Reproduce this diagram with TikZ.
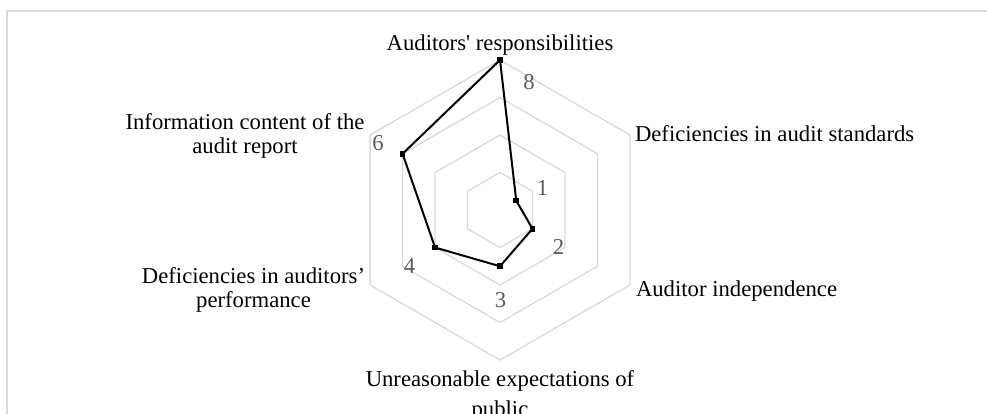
\documentclass[tikz,border=0pt]{standalone}
\usepackage{fontspec}
\setmainfont{Liberation Serif}[Ligatures={TeX,NoCommon}]
\begin{document}
\begin{tikzpicture}[x=1pt,y=-1pt,
  every node/.style={inner sep=0pt, outer sep=0pt,
    font=\fontsize{22.7pt}{24pt}\selectfont},
  grid/.style={draw=gridgray, line width=1.3pt, line join=miter},
  frameline/.style={draw=gridgray, line width=1.6pt},
  series/.style={draw=black, line width=2pt, line join=round},
  marker/.style={rectangle, fill=black, minimum size=5.6pt},
  catlabel/.style={text=black, align=center},
  vallabel/.style={text=valgray, anchor=base}]
\definecolor{gridgray}{HTML}{D9D9D9}
\definecolor{valgray}{HTML}{595959}
\useasboundingbox (0,0) rectangle (987,413);

% chart frame (only the top and left edges fall inside the page)
\draw[frameline] (7,430) -- (7,10.8) -- (1000,10.8);

% hexagonal grid rings at 2, 4, 6, 8 (one unit = 18.75)
\begin{scope}[shift={(500,210)}]
  \foreach \r in {37.5,75,112.5,150}
    \draw[grid] (-90:\r) -- (-30:\r) -- (30:\r) -- (90:\r) -- (150:\r) -- (210:\r) -- cycle;

  % data points
  \node[marker] (m1) at (-90:150)   {};
  \node[marker] (m2) at (-30:18.75) {};
  \node[marker] (m3) at (30:37.5)   {};
  \node[marker] (m4) at (90:56.25)  {};
  \node[marker] (m5) at (150:75)    {};
  \node[marker] (m6) at (210:112.5) {};
\end{scope}

\draw[series] (m1.center) -- (m2.center) -- (m3.center) -- (m4.center)
  -- (m5.center) -- (m6.center) -- cycle;

% category labels (base anchor sits on the last line)
\node[catlabel, anchor=base] (c1) at (500,50) {Auditors\textquotesingle{} responsibilities};
\node[catlabel, anchor=base west] (c2) at (635,141) {Deficiencies in audit standards};
\node[catlabel, anchor=base west] (c3) at (636,296) {Auditor independence};
\node[catlabel, anchor=base] (c4) at (500,416.5) {Unreasonable expectations of\\[6pt]public};
\node[catlabel, anchor=base] (c5) at (253.5,307) {Deficiencies in auditors’\\performance};
\node[catlabel, anchor=base] (c6) at (245,153) {Information content of the\\audit report};

% value labels
\node[vallabel] (v1) at (529,89)    {8};
\node[vallabel] (v2) at (542.5,195) {1};
\node[vallabel] (v3) at (558.5,254) {2};
\node[vallabel] (v4) at (500.5,307) {3};
\node[vallabel] (v5) at (409.5,273) {4};
\node[vallabel] (v6) at (378,150)   {6};
\end{tikzpicture}
\end{document}
